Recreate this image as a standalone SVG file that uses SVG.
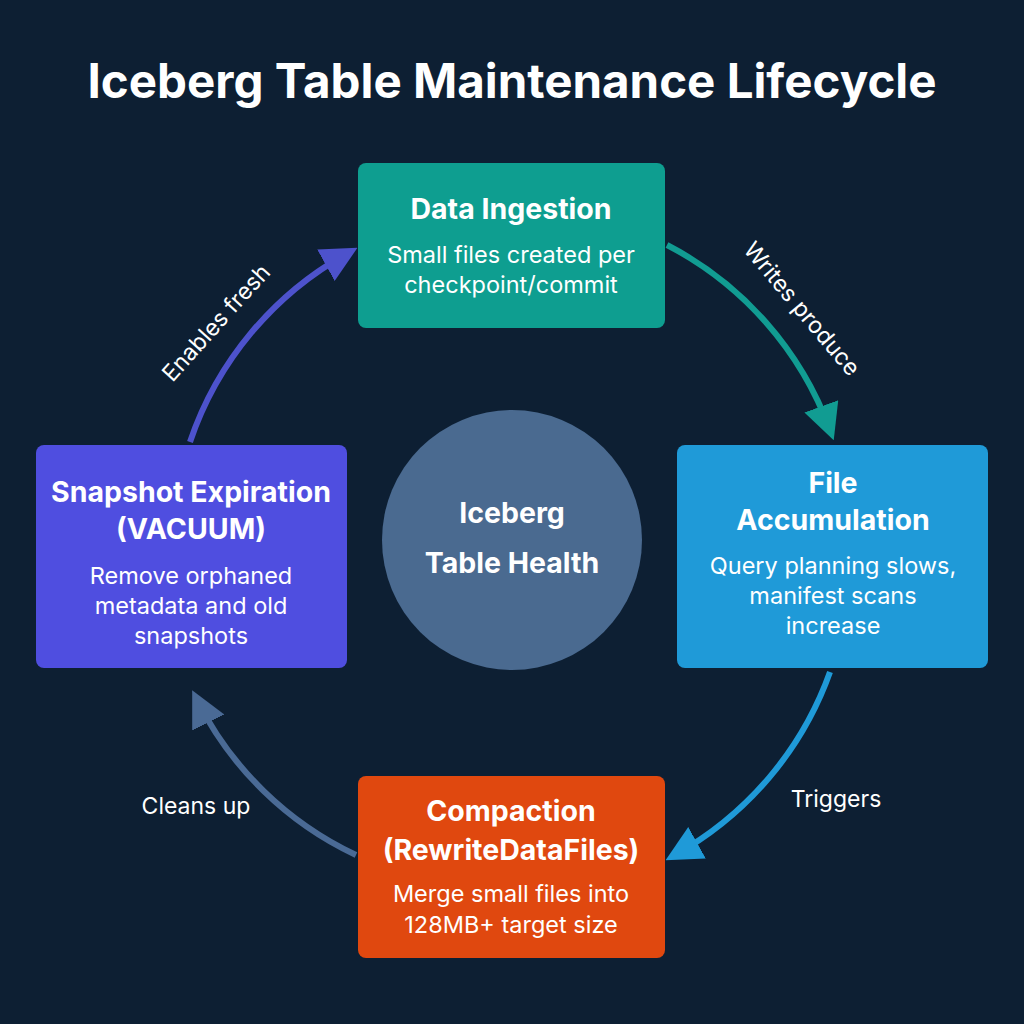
<svg xmlns="http://www.w3.org/2000/svg" width="1024" height="1024" viewBox="0 0 1024 1024">
<defs>
<style>
text{font-family:Inter,"Liberation Sans",sans-serif;fill:#fff;text-anchor:middle}
.t{font-size:28.5px;font-weight:700}
.d{font-size:23.5px}
.l{font-size:23px}
.c{fill:none;stroke-width:6}
</style>
<marker id="mt" viewBox="0 0 10 10" refX="7" refY="5" markerWidth="6" markerHeight="6" orient="auto" markerUnits="strokeWidth"><path d="M0,0L10,5L0,10z" fill="#119c92"/></marker>
<marker id="mb" viewBox="0 0 10 10" refX="7" refY="5" markerWidth="6" markerHeight="6" orient="auto" markerUnits="strokeWidth"><path d="M0,0L10,5L0,10z" fill="#1f9ad8"/></marker>
<marker id="ms" viewBox="0 0 10 10" refX="7" refY="5" markerWidth="6" markerHeight="6" orient="auto" markerUnits="strokeWidth"><path d="M0,0L10,5L0,10z" fill="#4a6a95"/></marker>
<marker id="mi" viewBox="0 0 10 10" refX="7" refY="5" markerWidth="6" markerHeight="6" orient="auto" markerUnits="strokeWidth"><path d="M0,0L10,5L0,10z" fill="#4d52cc"/></marker>
</defs>
<rect width="1024" height="1024" fill="#0d1f33"/>
<text x="512" y="98" style="font-size:47.5px;font-weight:700">Iceberg Table Maintenance Lifecycle</text>
<g id="connectors">
<path class="c" stroke="#119c92" marker-end="url(#mt)" d="M667,245 A340,340 0 0 1 830,430"/>
<path class="c" stroke="#1f9ad8" marker-end="url(#mb)" d="M830,672 A340,340 0 0 1 675,855"/>
<path class="c" stroke="#4a6a95" marker-end="url(#ms)" d="M356,855 A340,340 0 0 1 197,700"/>
<path class="c" stroke="#4d52cc" marker-end="url(#mi)" d="M190,442 A340,340 0 0 1 348,253"/>
<text class="l" transform="translate(796,314) rotate(50)">Writes produce</text>
<text class="l" transform="translate(222,328) rotate(-48)">Enables fresh</text>
<text class="l" x="836" y="807">Triggers</text>
<text class="l" x="196" y="814">Cleans up</text>
</g>
<g id="center"><circle cx="512" cy="540" r="130" fill="#4a6a90"/>
<text class="t" x="512" y="523">Iceberg</text><text class="t" x="512" y="573">Table Health</text></g>
<g id="ingestion"><rect x="358" y="163" width="307" height="165" rx="8" fill="#0e9e90"/>
<text class="t" x="511" y="219">Data Ingestion</text>
<text class="d" x="511" y="263">Small files created per</text><text class="d" x="511" y="293">checkpoint/commit</text></g>
<g id="accumulation"><rect x="677" y="445" width="311" height="223" rx="8" fill="#1f9ad8"/>
<text class="t" x="833" y="493">File</text><text class="t" x="833" y="530">Accumulation</text>
<text class="d" x="833" y="574">Query planning slows,</text><text class="d" x="833" y="604">manifest scans</text><text class="d" x="833" y="634">increase</text></g>
<g id="compaction"><rect x="358" y="776" width="307" height="182" rx="8" fill="#e0480f"/>
<text class="t" x="511" y="821">Compaction</text><text class="t" x="511" y="860">(RewriteDataFiles)</text>
<text class="d" x="511" y="902">Merge small files into</text><text class="d" x="511" y="933">128MB+ target size</text></g>
<g id="snapshot"><rect x="36" y="445" width="311" height="223" rx="8" fill="#4f4ee0"/>
<text class="t" x="191" y="502">Snapshot Expiration</text><text class="t" x="191" y="539">(VACUUM)</text>
<text class="d" x="191" y="584">Remove orphaned</text><text class="d" x="191" y="614">metadata and old</text><text class="d" x="191" y="644">snapshots</text></g>
</svg>
